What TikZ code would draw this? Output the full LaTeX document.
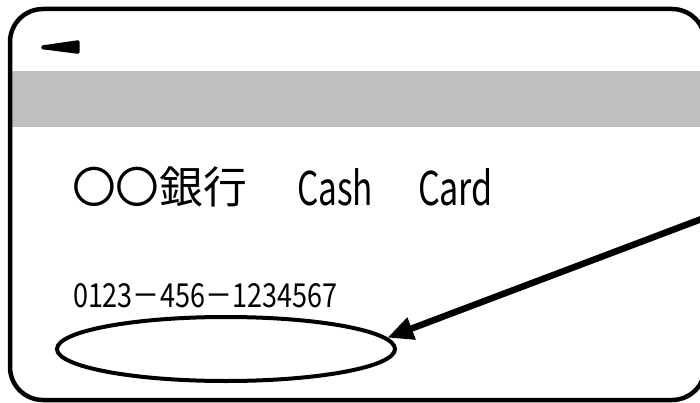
\documentclass[tikz,border=0pt]{standalone}
\usepackage{fontspec}
\usepackage{graphicx}
\newfontfamily\jp{Noto Sans CJK JP}
\usetikzlibrary{arrows.meta,shapes.geometric}
\definecolor{bandgray}{RGB}{192,192,192}
\tikzset{
  cardline/.style={line width=4.5pt},
  txt/.style={inner sep=0pt, outer sep=0pt, font=\jp},
  pointer/.style={line width=6.5pt, -{Triangle[length=26pt,width=22pt]}},
}
\begin{document}
\begin{tikzpicture}[x=1pt,y=-1pt]
\useasboundingbox (0,0) rectangle (700,403);
\clip (0,0) rectangle (700,403);
% magnetic band
\fill[bandgray] (10,71) rectangle (710,127);
% card outline
\draw[cardline, rounded corners=33pt] (10,9) rectangle (705,400);
% small wedge mark
\fill[rounded corners=1.5pt] (79.5,40) -- (79.5,54) -- (45,49.6)
  .. controls (40.5,49.4) and (40.5,45.2) .. (45,45) -- cycle;
% texts
\node[txt, anchor=south west] (bank) at (72,207) {\resizebox{175pt}{!}{〇〇銀行}};
\node[txt, anchor=base west] (cash) at (297,205) {\resizebox{76pt}{37pt}{Cash}};
\node[txt, anchor=base west] (card) at (418,205) {\resizebox{75pt}{37pt}{Card}};
\node[txt, anchor=base west] (num) at (73,307) {\resizebox{264pt}{24pt}{0123－456－1234567}};
% ellipse
\node[draw, ellipse, line width=4pt, minimum width=338pt, minimum height=64pt, inner sep=0pt] (slot) at (226,349) {};
% arrow
\coordinate (src) at (720,212);
\draw[pointer] (src) -- (slot.4);
\end{tikzpicture}
\end{document}
